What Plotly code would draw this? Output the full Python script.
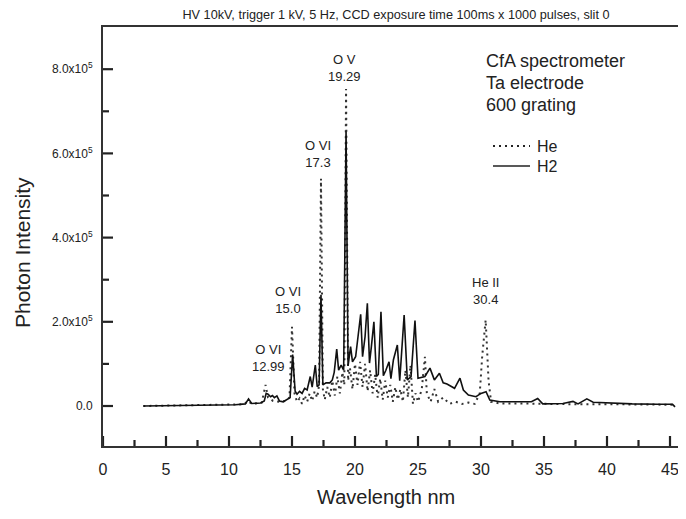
import plotly.graph_objects as go

# ---- data (intensity in units of 1e5 photons) ----
h2_wl = [3.2, 5, 7, 9, 10.5, 11.3, 11.55, 11.8, 12.5, 12.8, 12.95, 13.1, 13.3, 13.45, 13.6, 13.8,
         14.0, 14.3, 14.6, 14.85, 15.05, 15.25, 15.4, 15.6, 15.8, 16.0, 16.2, 16.45, 16.6, 16.85,
         17.0, 17.15, 17.3, 17.45, 17.7, 18.0, 18.2, 18.35, 18.55, 18.7, 18.9, 19.1, 19.29, 19.45,
         19.65, 19.8, 20.05, 20.3, 20.45, 20.6, 20.8, 20.98, 21.15, 21.3, 21.5, 21.7, 21.85, 22.06,
         22.25, 22.45, 22.7, 22.85, 23.05, 23.36, 23.55, 23.9, 24.15, 24.45, 24.76, 25.0, 25.55,
         25.95, 26.3, 26.7, 27.0, 27.3, 27.6, 27.9, 28.33, 28.6, 29.0, 29.6, 30.0, 30.4, 30.7,
         31.5, 33.0, 34.0, 34.5, 34.9, 36.5, 37.3, 37.7, 38.4, 38.9, 40, 42, 44, 45.2, 45.4]
h2_int = [0.0, 0.005, 0.01, 0.02, 0.03, 0.05, 0.17, 0.06, 0.07, 0.12, 0.3, 0.28, 0.22, 0.25, 0.2, 0.24,
          0.12, 0.1, 0.16, 0.2, 1.22, 0.35, 0.28, 0.35, 0.3, 0.42, 0.38, 0.7, 0.45, 0.97,
          0.46, 0.5, 2.64, 0.5, 0.55, 0.55, 0.62, 0.8, 1.35, 0.85, 0.97, 0.85, 6.52, 0.95,
          1.41, 1.05, 1.17, 1.77, 2.18, 1.17, 1.65, 2.44, 1.02, 1.41, 2.0, 0.7, 0.75, 2.24,
          0.72, 0.85, 1.05, 0.65, 1.1, 1.45, 0.6, 2.16, 0.62, 0.7, 2.03, 0.66, 0.7,
          0.9, 0.62, 0.78, 0.55, 0.52, 0.46, 0.42, 0.66, 0.38, 0.26, 0.22, 0.3, 0.34, 0.14,
          0.1, 0.1, 0.1, 0.18, 0.05, 0.06, 0.11, 0.05, 0.17, 0.09, 0.07, 0.05, 0.04, 0.04, -0.02]

he_wl = [3.2, 6, 9, 11.2, 11.5, 11.8, 12.6, 12.9, 13.1, 13.5, 14.0, 14.5, 14.8, 15.0, 15.2, 15.4,
         15.6, 15.8, 16.0, 16.2, 16.4, 16.6, 16.8, 17.0, 17.15, 17.3, 17.45, 17.6, 17.8, 18.0, 18.2,
         18.4, 18.6, 18.8, 19.0, 19.15, 19.29, 19.45, 19.6, 19.8, 20.0, 20.2, 20.4, 20.6, 20.8, 21.0,
         21.2, 21.4, 21.6, 21.8, 22.0, 22.2, 22.4, 22.6, 22.8, 23.0, 23.2, 23.4, 23.6, 23.8, 24.0,
         24.2, 24.4, 24.6, 24.8, 25.0, 25.3, 25.55, 25.7, 26.0, 26.3, 26.6, 27.0, 27.5, 28.0, 28.5,
         29.0, 29.5, 29.9, 30.1, 30.37, 30.6, 30.8, 31.5, 33, 35, 38, 41, 45.4]
he_int = [0.0, 0.01, 0.02, 0.04, 0.12, 0.05, 0.08, 0.5, 0.2, 0.12, 0.1, 0.12, 0.2, 1.88, 0.3, 0.1,
          0.18, 0.05, 0.25, 0.1, 0.3, 0.12, 0.35, 0.2, 0.5, 5.4, 0.4, 0.15, 0.45, 0.2, 0.6,
          0.25, 0.7, 0.3, 0.8, 0.5, 7.53, 0.6, 0.9, 0.4, 1.0, 0.5, 1.05, 0.45, 1.0, 0.35,
          0.85, 0.3, 0.75, 0.2, 0.65, 0.15, 0.6, 0.2, 0.5, 0.1, 0.45, 0.15, 0.4, 0.1, 0.85,
          0.2, 0.97, 0.05, 0.3, 0.1, 0.4, 1.17, 0.3, 0.1, 0.4, 0.1, 0.2, 0.05, 0.1, 0.05,
          0.08, 0.05, 0.3, 1.2, 2.04, 0.6, 0.1, 0.06, 0.06, 0.05, 0.04, 0.04, 0.03]

x_ticks = [0, 5, 10, 15, 20, 25, 30, 35, 40, 45]
x_minor = [2.5, 7.5, 12.5, 17.5, 22.5, 27.5, 32.5, 37.5, 42.5]
y_tickvals = [0, 2e5, 4e5, 6e5, 8e5]
y_minor = [1e5, 3e5, 5e5, 7e5]
y_ticktext = ["0.0", "2.0x10<sup>5</sup>", "4.0x10<sup>5</sup>", "6.0x10<sup>5</sup>", "8.0x10<sup>5</sup>"]

# peak labels: (wavelength, intensity/1e5, text)
peak_labels = [
    (19.2, 8.03, "O V<br>19.29"),
    (17.06, 5.99, "O VI<br>17.3"),
    (14.68, 2.52, "O VI<br>15.0"),
    (13.1, 1.14, "O VI<br>12.99"),
    (30.32, 2.73, "He II<br>30.4"),
]
info_lines = ["CfA spectrometer", "Ta electrode", "600 grating"]
legend_items = [("He", "2px,4px", 2.0), ("H2", "solid", 1.6)]

FONT = "Arial, Liberation Sans, Helvetica, sans-serif"
TXT = "#222222"
AX = "#333333"
TK = "#222222"

# page geometry (browser body has an 8px margin)
OFF = 8
PL, PR, PT, PB = 103, 686, 27, 446  # plot area in page pixels
W, H = 686 - OFF, 519 - OFF
XR = [0, (PR - PL) / 12.6]
YR = [-0.95e5, (406 - PT) / 42.1 * 1e5]


def px(xp):
    return (xp - PL) / (PR - PL)


def py(yp):
    return (PB - yp) / (PB - PT)


fig = go.Figure()
fig.add_trace(go.Scatter(x=he_wl, y=[v * 1e5 for v in he_int], mode="lines", name="He",
                         line=dict(color="#333333", width=2, dash="2px,4px")))
fig.add_trace(go.Scatter(x=h2_wl, y=[v * 1e5 for v in h2_int], mode="lines", name="H2",
                         line=dict(color="#111111", width=1.6)))

for x, y, t in peak_labels:
    fig.add_annotation(x=x, y=y * 1e5, text=t, showarrow=False, xanchor="center", yanchor="middle",
                       font=dict(family=FONT, size=13, color=TXT))

for i, t in enumerate(info_lines):
    fig.add_annotation(xref="paper", yref="paper", x=px(484), y=py(61 + 22 * i),
                       text=t, showarrow=False, xanchor="left", yanchor="middle",
                       font=dict(family=FONT, size=18, color=TXT))

for i, (name, dash, w) in enumerate(legend_items):
    yy = py(146 + 20 * i)
    fig.add_shape(type="line", xref="paper", yref="paper", x0=px(493), x1=px(530), y0=yy, y1=yy,
                  line=dict(color="#222222", width=w, dash=dash))
    fig.add_annotation(xref="paper", yref="paper", x=px(535), y=yy, text=name, showarrow=False,
                       xanchor="left", yanchor="middle", font=dict(family=FONT, size=16, color=TXT))

fig.add_annotation(xref="paper", yref="paper", x=px(386), y=py(497),
                   text="Wavelength nm", showarrow=False, xanchor="center", yanchor="middle",
                   font=dict(family=FONT, size=20, color=TXT))
fig.add_annotation(xref="paper", yref="paper", x=px(22), y=py(253),
                   text="Photon Intensity", showarrow=False, textangle=-90, xanchor="center",
                   yanchor="middle", font=dict(family=FONT, size=21, color=TXT))

# inward-pointing tick marks placed through the axis scales
for vals, ln in ((x_ticks, 10), (x_minor, 6)):
    for v in vals:
        fig.add_shape(type="line", xref="x", yref="paper", x0=v, x1=v, y0=0, y1=ln / (PB - PT),
                      line=dict(color=TK, width=2.2), layer="above")
for vals, ln in ((y_tickvals, 10), (y_minor, 6)):
    for v in vals:
        fig.add_shape(type="line", xref="paper", yref="y", x0=0, x1=ln / (PR - PL), y0=v, y1=v,
                      line=dict(color=TK, width=2.2), layer="above")

fig.update_layout(
    width=W, height=H,
    margin=dict(l=PL - OFF, r=0, t=PT - OFF, b=519 - PB, autoexpand=False),
    paper_bgcolor="white", plot_bgcolor="white",
    title=dict(text="HV 10kV, trigger 1 kV, 5 Hz, CCD exposure time 100ms x 1000 pulses, slit 0",
               x=(396 - OFF) / W, xanchor="center", y=1 - (15 - OFF) / H, yanchor="middle",
               font=dict(family=FONT, size=12.7, color=TXT)),
    showlegend=False,
    xaxis=dict(range=XR, tickmode="array", tickvals=x_ticks, ticks="",
               showline=True, linecolor=AX, linewidth=2, mirror=True,
               showgrid=False, zeroline=False, ticklabelstandoff=8,
               tickfont=dict(family=FONT, size=16, color=TXT)),
    yaxis=dict(range=YR, tickmode="array", tickvals=y_tickvals, ticktext=y_ticktext, ticks="",
               showline=True, linecolor=AX, linewidth=2, showgrid=False, zeroline=False,
               ticklabelstandoff=6, tickfont=dict(family=FONT, size=12, color=TXT)),
)

fig.write_html("out.html")
